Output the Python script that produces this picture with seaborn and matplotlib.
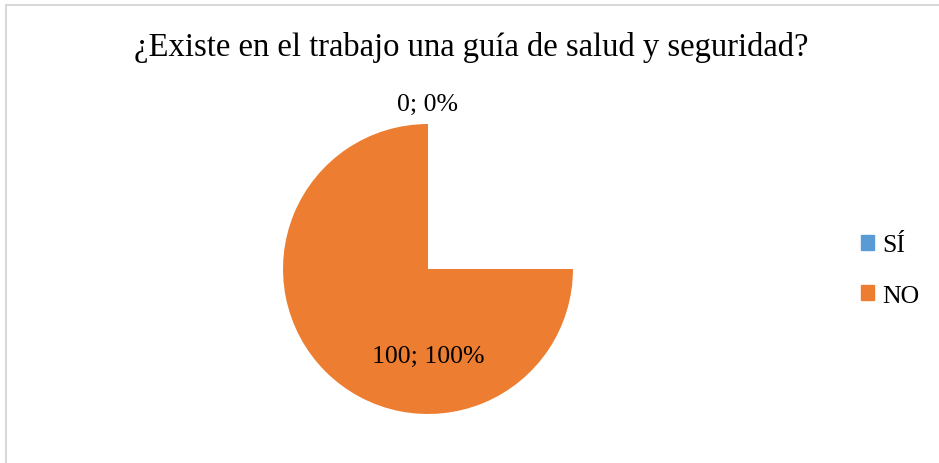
import numpy as np
import matplotlib.pyplot as plt
import matplotlib.patches as mpatches
import seaborn as sns

# datos
categorias = ["SÍ", "NO"]
valores = [0, 100]
colores = ["#5B9BD5", "#ED7D31"]
titulo = "¿Existe en el trabajo una guía de salud y seguridad?"

sns.set_theme(style="white")
plt.rcParams["font.family"] = ["Liberation Serif", "DejaVu Serif"]
plt.rcParams["text.color"] = "black"

fig = plt.figure(figsize=(9.39, 4.64), dpi=100)
ax = fig.add_axes([0.3014, 0.1056, 0.3088, 0.625])

wedges, _ = ax.pie(valores, colors=colores, startangle=90, counterclock=False,
                   radius=1, wedgeprops=dict(linewidth=0))
# Excel dibujó la porción del 100% sin el cuadrante superior derecho
wedges[1].set_theta2(wedges[1].theta2 - 90)

total = sum(valores)
for w, v in zip(wedges, valores):
    if v > 0:
        mid = np.deg2rad(-90)
        r = 0.6
    else:
        mid = np.deg2rad(w.theta1)
        r = 1.14
    ax.text(r * np.cos(mid), r * np.sin(mid), f"{v}; {v / total:.0%}",
            ha="center", va="center", fontsize=18.5, color="black")

ax.set_xlim(-1, 1)
ax.set_ylim(-1, 1)
ax.set_aspect("equal")
ax.axis("off")

fig.text(0.502, 0.898, titulo, ha="center", va="center", fontsize=23.5, color="black")

handles = [mpatches.Patch(color=c, label=l) for c, l in zip(colores, categorias)]
fig.legend(handles=handles, loc="center left", bbox_to_anchor=(0.892, 0.415),
           frameon=False, fontsize=18.5, handlelength=0.5, handleheight=0.5,
           handletextpad=0.35, labelspacing=1.1, labelcolor="black")

fig.add_artist(mpatches.Rectangle((6 / 939, -0.1), 1.0, 1.1 - 6 / 464,
                                  transform=fig.transFigure, fill=False,
                                  edgecolor="#D9D9D9", linewidth=1.5))

fig.savefig("out.png", dpi=100)
